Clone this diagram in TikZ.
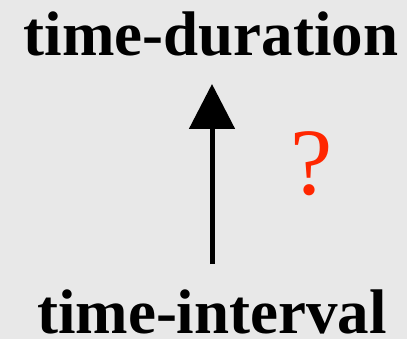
\documentclass[tikz,border=0pt]{standalone}
\usepackage{fontspec}
\setmainfont{Liberation Serif}
\usetikzlibrary{arrows.meta}
\definecolor{bgGray}{RGB}{232,232,232}
\definecolor{askRed}{RGB}{255,38,0}
\tikzset{
  term/.style={font=\fontsize{63bp}{70bp}\selectfont\bfseries,anchor=base,inner sep=1bp},
  ask/.style={font=\fontsize{95bp}{100bp}\selectfont,text=askRed,anchor=base,inner sep=0pt}
}
\begin{document}
\begin{tikzpicture}[x=1bp,y=-1bp,line cap=butt]
  \fill[bgGray] (0,0) rectangle (407,339);
  \useasboundingbox (0,0) rectangle (407,339);
  \node[term] (duration) at (211,55) {time-duration};
  \node[term] (interval) at (212,333) {time-interval};
  \node[ask] (question) at (312,194) {?};
  \draw[line width=5bp,shorten <=24bp,shorten >=27bp,-{Triangle[width=45bp,length=45bp]}]
    (interval.north) -- (interval.north |- duration.south);
\end{tikzpicture}
\end{document}
